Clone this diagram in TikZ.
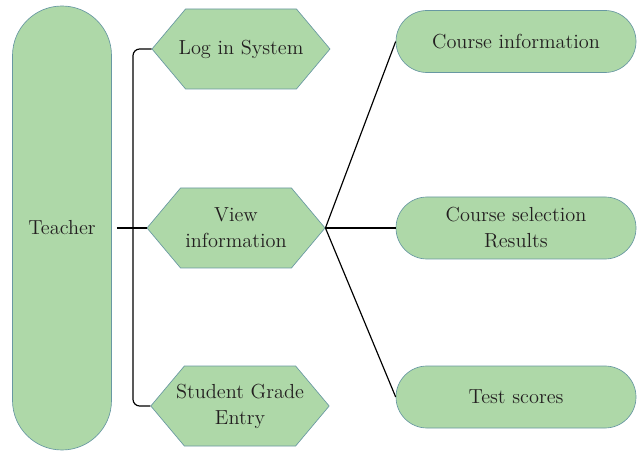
\documentclass[tikz,border=0pt]{standalone}
\usepackage{tikz}
\usetikzlibrary{shapes.symbols}
\usetikzlibrary{positioning}
\definecolor{boxfill}{RGB}{174,216,168}
\definecolor{boxline}{RGB}{104,152,162}
\definecolor{txt}{RGB}{35,31,32}

\tikzset{
	actor/.style={draw=boxline,fill=boxfill,rounded corners=29.7pt,minimum width=59.4pt,minimum height=266.4pt,text=txt,font=\fontsize{12.2}{15.6}\selectfont},
	func/.style={signal,signal to=west and east,signal pointer angle=100,draw=boxline,fill=boxfill,minimum width=106.8pt,minimum height=48pt,inner xsep=-5pt,inner ysep=0pt,align=center,text=txt,font=\fontsize{12.2}{15.6}\selectfont},
	item/.style={draw=boxline,fill=boxfill,rounded corners=18.6pt,minimum width=144pt,minimum height=37.2pt,inner sep=0pt,align=center,text=txt,font=\fontsize{12.2}{15.6}\selectfont},
	link/.style={draw=black,line width=0.7pt}
}

\begin{document}
\begin{tikzpicture}[x=0.6pt,y=0.6pt]
		\useasboundingbox (0,0) rectangle (642,451);
		\node[actor] (teacher) at (62,223) {Teacher};
		\node[func] (login) at (241,402) {Log in System};
		\node[func] (view) at (236,223) {View\\information};
		\node[func] (grade) at (240,45) {Student Grade\\Entry};
		\node[item] (cinfo) at (516,409.5) {Course information};
		\node[item] (csel) at (516,223) {Course selection\\Results};
		\node[item] (tests) at (516,54) {Test scores};
		\coordinate (brace) at (133,223);
		% brace from teacher to the functions
		\draw[link,rounded corners=4pt] (login.west) -| (brace) |- (grade.west);
		\draw[link] ([xshift=3pt]teacher.east) -- (brace) -- (view.west);
		% view information fans out
		\draw[link] (view.east) -- (cinfo.west);
		\draw[link] (view.east) -- (csel.west);
		\draw[link] (view.east) -- (tests.west);
	\end{tikzpicture}
\end{document}
